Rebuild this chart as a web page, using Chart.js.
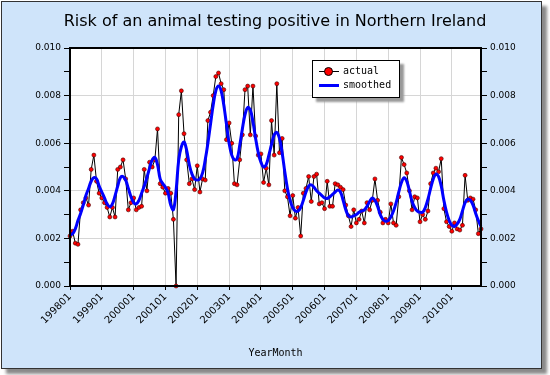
<!DOCTYPE html>
<html>
<head>
<meta charset="utf-8">
<script src="https://cdn.jsdelivr.net/npm/chart.js@4.4.1/dist/chart.umd.min.js"></script>
<style>
  body { margin: 0; background: #fff; }
  #frame {
    position: absolute; left: 1px; top: 1px; width: 539px; height: 366px;
    background: #cfe4fa; border: 1px solid #333;
    box-shadow: 5px 5px 3px #8a8a8a;
  }
  #wrap { position: absolute; left: 0; top: 0; width: 550px; height: 375px; }
  #title {
    position: absolute; left: 0; top: 11px; width: 550px; text-align: center;
    font: 16px "DejaVu Sans", sans-serif; color: #000;
  }
  #legend {
    position: absolute; left: 312px; top: 60px; width: 86px; height: 36px;
    background: #fff; border: 1px solid #000; box-shadow: 4px 4px 2px #999;
    font: 10px "DejaVu Sans Mono", monospace; color: #000;
  }
  .row { position: absolute; left: 30px; }
  .mk { position: absolute; left: -24px; width: 20px; }
  .mk.actual { top: 6px; height: 1px; background: #000; }
  .mk.actual i {
    position: absolute; left: 5px; top: -4px; width: 7px; height: 7px;
    border-radius: 50%; background: #f00; border: 1px solid #000;
  }
  .mk.smooth { top: 5px; height: 3px; background: #00f; }
</style>
</head>
<body>
<div id="frame"></div>
<div id="wrap"><canvas id="riskChart" width="550" height="375"></canvas></div>
<div id="title">Risk of an animal testing positive in Northern Ireland</div>
<div id="legend">
  <div class="row" style="top:4px"><span class="mk actual"><i></i></span>actual</div>
  <div class="row" style="top:18px"><span class="mk smooth"></span>smoothed</div>
</div>
<script>
const years = [1998, 1999, 2000, 2001, 2002, 2003, 2004, 2005, 2006, 2007, 2008, 2009, 2010];
const monthCodes = ["01", "02", "03", "04", "05", "06", "07", "08", "09", "10", "11", "12"];
const yearMonths = years.flatMap((y) => monthCodes.map((m) => `${y}${m}`));

// monthly risk, 199801 .. 201012
const actual = [
  0.0021, 0.0023, 0.0018, 0.00175, 0.0032, 0.0035, 0.0037, 0.0034, 0.0049, 0.0055, 0.0044, 0.0039,
  0.0037, 0.0035, 0.0033, 0.0029, 0.0033, 0.0029, 0.0049, 0.0050, 0.0053, 0.0045, 0.0032, 0.0035,
  0.0037, 0.0032, 0.0033, 0.00335, 0.0049, 0.0040, 0.0052, 0.0050, 0.0053, 0.0066, 0.0043, 0.00415,
  0.0039, 0.0041, 0.0039, 0.0028, 0.0000, 0.0072, 0.0082, 0.0064, 0.0053, 0.0043, 0.0045, 0.00405,
  0.00505, 0.00395, 0.0045, 0.00445, 0.00695, 0.0073, 0.0080, 0.0088, 0.00895, 0.0085, 0.00825, 0.00615,
  0.00685, 0.0060, 0.0043, 0.00425, 0.0053, 0.00635, 0.00825, 0.0084, 0.00635, 0.0084, 0.0063, 0.0055,
  0.00555, 0.00435, 0.00495, 0.00425, 0.00695, 0.0055, 0.0085, 0.0056, 0.0062, 0.0040, 0.00375, 0.00295,
  0.0038, 0.00285, 0.0033, 0.0021, 0.0039, 0.0041, 0.0046, 0.00355, 0.0046, 0.0047, 0.00345, 0.0035,
  0.00325, 0.0044, 0.00335, 0.00335, 0.0043, 0.00425, 0.00415, 0.00405, 0.0034, 0.00295, 0.0025, 0.0032,
  0.00265, 0.0028, 0.00315, 0.00265, 0.0035, 0.0032, 0.0036, 0.0045, 0.0036, 0.0031, 0.00265, 0.0028,
  0.00265, 0.00345, 0.00265, 0.00255, 0.00375, 0.0054, 0.0051, 0.00475, 0.0040, 0.0032, 0.00375, 0.0037,
  0.0027, 0.0030, 0.0028, 0.00315, 0.0043, 0.00475, 0.00495, 0.0048, 0.00535, 0.00325, 0.0027, 0.0025,
  0.0023, 0.00265, 0.0024, 0.00235, 0.00255, 0.00465, 0.0036, 0.0037, 0.00365, 0.0032, 0.0022, 0.0024,
];

const smoothed = [
  0.00215, 0.0022, 0.0024, 0.00275, 0.00305, 0.0034, 0.0038, 0.0041, 0.0044, 0.00455, 0.0045, 0.0042,
  0.00395, 0.0037, 0.00345, 0.00333, 0.00345, 0.0038, 0.0042, 0.00455, 0.0046, 0.00445, 0.0041, 0.00375,
  0.0035, 0.00345, 0.0036, 0.0039, 0.0042, 0.00455, 0.00495, 0.0053, 0.0054, 0.0051, 0.0045, 0.0043,
  0.00415, 0.0039, 0.0034, 0.0032, 0.0040, 0.0053, 0.00585, 0.00605, 0.0057, 0.0051, 0.0047, 0.0045,
  0.00445, 0.0045, 0.00475, 0.0053, 0.0060, 0.0068, 0.0076, 0.0082, 0.0084, 0.0082, 0.0076, 0.0068,
  0.0060, 0.0055, 0.0053, 0.00535, 0.0059, 0.0066, 0.0072, 0.0075, 0.0074, 0.0069, 0.0062, 0.0056,
  0.0052, 0.0050, 0.0051, 0.0055, 0.00595, 0.00635, 0.00645, 0.0062, 0.0056, 0.0048, 0.0041, 0.0036,
  0.0033, 0.00315, 0.00315, 0.0033, 0.0036, 0.00395, 0.0042, 0.00425, 0.00415, 0.0040, 0.0039, 0.0038,
  0.0037, 0.00368, 0.00375, 0.00385, 0.00395, 0.00403, 0.00395, 0.0036, 0.0032, 0.00295, 0.0029, 0.00295,
  0.0030, 0.0031, 0.00315, 0.0032, 0.00335, 0.00355, 0.0037, 0.0036, 0.00335, 0.0030, 0.0028, 0.00272,
  0.00275, 0.0029, 0.00315, 0.0035, 0.00395, 0.00435, 0.00455, 0.0044, 0.0040, 0.00355, 0.0033, 0.00315,
  0.0031, 0.0031, 0.0033, 0.00365, 0.0041, 0.0045, 0.0047, 0.0046, 0.0042, 0.0036, 0.0031, 0.00275,
  0.00255, 0.0025, 0.0026, 0.0028, 0.00315, 0.0035, 0.00365, 0.0036, 0.0034, 0.00305, 0.00275, 0.0025,
];

const yMin = 0;
const yMax = 0.010;
const yStep = 0.001;

const isMajor = (value) => Math.round(value / yStep) % 2 === 0;

const plotFrame = {
  id: "plotFrame",
  beforeDraw(chart) {
    const { ctx, chartArea: a } = chart;
    ctx.save();
    ctx.fillStyle = "#fff";
    ctx.fillRect(a.left, a.top, a.right - a.left, a.bottom - a.top);
    ctx.restore();
  },
  afterDatasetsDraw(chart) {
    const { ctx, chartArea: a } = chart;
    ctx.save();
    ctx.strokeStyle = "#000";
    ctx.lineWidth = 2;
    ctx.strokeRect(a.left, a.top, a.right - a.left, a.bottom - a.top);
    ctx.restore();
  },
};

const tickFont = { family: "DejaVu Sans", size: 9 };

function yAxis(position, width) {
  return {
    position,
    min: yMin,
    max: yMax,
    border: { display: false },
    afterFit: (scale) => { scale.width = width; },
    grid: {
      drawOnChartArea: position === "left",
      color: (c) => (c.tick && isMajor(c.tick.value) ? "#d6d6d6" : "rgba(0,0,0,0)"),
      tickColor: "#000",
      tickLength: 6,
    },
    ticks: {
      stepSize: yStep,
      padding: 3,
      color: "#000",
      font: tickFont,
      callback: (value) => (isMajor(value) ? value.toFixed(3) : ""),
    },
  };
}

new Chart(document.getElementById("riskChart"), {
  type: "line",
  data: {
    labels: yearMonths,
    datasets: [
      {
        label: "smoothed",
        data: smoothed,
        borderColor: "#0000ff",
        borderWidth: 3,
        pointRadius: 0,
        tension: 0.4,
        order: 0,
      },
      {
        label: "actual",
        data: actual,
        borderColor: "#000",
        borderWidth: 1,
        pointRadius: 2,
        pointBackgroundColor: "#ff0000",
        pointBorderColor: "#400",
        pointBorderWidth: 0.6,
        tension: 0,
        order: 1,
        clip: false,
      },
    ],
  },
  options: {
    responsive: false,
    animation: false,
    layout: { padding: { top: 48, left: 0, right: 0, bottom: 0 } },
    plugins: {
      legend: { display: false },
      title: { display: false },
      tooltip: { enabled: false },
    },
    scales: {
      x: {
        offset: false,
        border: { display: false },
        afterFit: (scale) => { scale.height = 89; },
        grid: { color: "#d6d6d6", tickColor: "#000", tickLength: 4 },
        ticks: {
          autoSkip: false,
          minRotation: 45,
          maxRotation: 45,
          padding: 1,
          color: "#000",
          font: { family: "DejaVu Sans", size: 10 },
          callback: (value, index) => (index % 12 === 0 ? yearMonths[index] : null),
        },
        title: {
          display: true,
          text: "YearMonth",
          color: "#000",
          font: { family: "DejaVu Sans Mono", size: 10 },
          padding: { top: 0, bottom: 16 },
        },
      },
      y: yAxis("left", 70),
      y2: yAxis("right", 69),
    },
  },
  plugins: [plotFrame],
});
</script>
</body>
</html>
